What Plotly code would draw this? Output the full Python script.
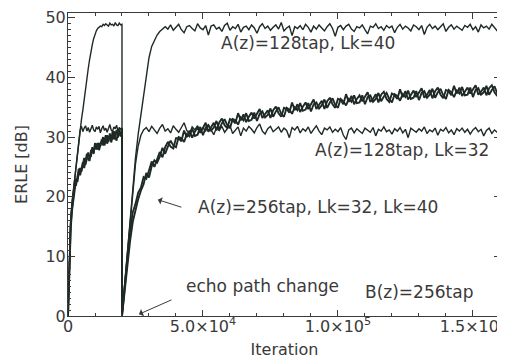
import plotly.graph_objects as go

# ---------------- data ----------------
# iteration grids: before the echo path change (step 500) and after (step 1000)
iter_before = list(range(0, 20001, 500))
iter_after = list(range(20000, 160001, 1000))

# A(z)=128tap, Lk=40
erle_128_lk40_before = [0, 11, 16, 19, 21, 23, 25.5, 28, 30, 31.5, 33, 34.5, 36.5, 38.5, 40, 41.5,
                        43, 44.5, 45.5, 46.5, 47.3, 47.8, 48.2, 48.4, 48.6, 48.5, 48.9, 48.7, 49.0,
                        48.8, 48.6, 49.1, 48.8, 48.9, 48.6, 49.2, 48.8, 48.7, 49.1, 48.8, 48.9]
erle_128_lk40_after = [0, 5.5, 10.5, 15, 21, 26.5, 30.5, 33.8, 37, 40.5, 43.3, 45.2, 46.3, 47.1, 47.7, 48.1,
                       48.5, 48.1, 48.8, 47.9, 48.4, 48.9, 48.0, 47.5, 48.5, 48.7,
                       48.2, 47.8, 49.0, 48.3, 48.0, 48.7, 47.1, 48.6, 48.8, 48.1,
                       48.4, 47.7, 48.7, 49.1, 47.9, 48.5, 48.2, 48.9, 47.6, 48.4,
                       48.6, 48.0, 48.8, 48.3, 47.4, 48.5, 49.0, 48.2, 48.6, 47.9,
                       48.4, 48.8, 48.1, 49.2, 47.8, 48.3, 48.6, 47.0, 48.5, 48.2,
                       48.7, 48.0, 48.9, 48.4, 47.6, 48.6, 48.1, 48.8, 48.3, 47.8,
                       48.5, 49.0, 48.2, 46.9, 48.4, 48.7, 48.0, 48.6, 48.9, 48.1,
                       47.7, 48.5, 48.3, 48.8, 48.0, 47.3, 48.6, 48.4, 49.0, 48.2,
                       48.5, 47.9, 48.7, 48.3, 48.6, 47.5, 48.4, 48.9, 48.1, 48.6,
                       48.3, 47.8, 48.8, 48.5, 48.0, 48.7, 47.2, 48.4, 48.9, 48.2,
                       48.6, 48.0, 48.5, 49.0, 47.7, 48.4, 48.8, 48.1, 48.6, 48.3,
                       47.9, 48.7, 48.4, 48.9, 48.0, 48.5, 47.6, 48.8, 48.3, 48.6,
                       48.1, 48.9, 48.4, 47.8, 48.6]

# A(z)=128tap, Lk=32
erle_128_lk32_before = [0, 11, 16, 19, 21, 23, 25.5, 28, 30, 31.2, 31.8, 30.9, 31.5, 31.9, 31.0, 31.6,
                        30.8, 31.4, 32.0, 31.2, 30.9, 31.7, 31.3, 31.8, 30.7, 31.4, 31.9, 31.1, 31.5,
                        30.8, 31.6, 32.1, 31.2, 30.9, 31.7, 31.4, 32.0, 31.0, 31.6, 31.3, 31.5]
erle_128_lk32_after = [0, 5.5, 10.5, 15, 20.5, 25.5, 28.5, 30.3, 31.2,
                       31.6, 30.9, 31.8, 31.2, 30.6, 31.5, 32.1, 31.0, 31.4, 30.7,
                       31.9, 31.3, 30.8, 31.6, 32.4, 31.1, 30.5, 31.7, 31.2, 31.9,
                       30.9, 31.5, 31.0, 32.0, 31.3, 30.4, 31.6, 31.1, 31.8, 30.8,
                       31.4, 31.9, 30.6, 31.2, 31.7, 30.2, 31.5, 31.0, 31.8, 31.3,
                       30.7, 31.6, 32.2, 31.0, 30.5, 31.4, 31.8, 30.9, 31.3, 31.7,
                       30.8, 31.5, 31.1, 29.9, 31.6, 31.2, 31.8, 30.7, 31.4, 31.0,
                       31.7, 30.6, 31.3, 31.9, 31.0, 30.4, 31.5, 31.2, 31.7, 30.8,
                       31.3, 30.9, 31.6, 30.3, 29.6, 31.2, 31.5, 30.7, 31.4, 31.0,
                       30.6, 31.5, 31.1, 30.8, 31.6, 30.2, 31.3, 31.0, 31.7, 30.9,
                       31.2, 30.5, 31.4, 31.0, 31.6, 30.7, 31.3, 29.9, 31.5, 31.1,
                       30.8, 31.4, 31.0, 31.7, 30.6, 31.2, 30.9, 31.5, 30.3, 31.3,
                       31.0, 31.6, 30.7, 31.2, 30.4, 31.4, 31.0, 31.5, 30.8, 31.3,
                       30.5, 31.2, 31.6, 30.9, 31.3, 30.2, 31.1, 31.5, 30.6, 31.2,
                       30.8, 31.0]

# A(z)=256tap, Lk=40
erle_256_lk40_before = [0, 10.3, 15.4, 18.2, 20.8, 22.1, 22.0, 23.4, 24.7, 23.6, 24.6, 25.8, 24.8, 26.4,
                        27.2, 26.3, 26.0, 27.7, 27.6, 27.2, 29.0, 27.9, 29.0, 27.8, 28.8, 29.6, 28.6,
                        29.5, 30.3, 28.9, 29.5, 30.3, 29.1, 30.4, 31.0, 29.9, 29.4, 30.9, 30.7, 30.1, 31.4]
erle_256_lk40_after = [0, 5.2, 10.1, 14.3, 17.4, 18.8, 20.7, 21.5, 23.3, 23.0,
                       24.4, 25.9, 25.0, 26.2, 27.5, 26.6, 28.3, 29.2, 28.4, 28.1,
                       29.8, 29.8, 29.3, 31.1, 30.0, 31.1, 29.9, 30.9, 31.6, 30.7,
                       31.5, 32.4, 30.9, 31.6, 32.4, 31.1, 32.4, 33.1, 32.0, 31.5,
                       33.0, 32.8, 32.3, 34.0, 32.8, 33.8, 32.5, 33.4, 34.1, 33.1,
                       33.9, 34.7, 33.2, 33.8, 34.5, 33.2, 34.5, 35.1, 34.0, 33.4,
                       34.9, 34.7, 34.1, 35.8, 34.5, 35.5, 34.2, 35.1, 35.8, 34.7,
                       35.5, 36.3, 34.7, 35.3, 36.1, 34.7, 36.0, 36.6, 35.5, 34.9,
                       36.4, 36.2, 35.5, 37.2, 35.9, 36.9, 35.5, 36.4, 37.0, 36.0,
                       36.7, 37.5, 35.9, 36.4, 37.2, 35.8, 37.1, 37.6, 36.4, 35.9,
                       37.3, 37.0, 36.4, 38.0, 36.7, 37.7, 36.3, 37.1, 37.8, 36.7,
                       37.4, 38.2, 36.6, 37.1, 37.9, 36.5, 37.7, 38.3, 37.1, 36.5,
                       37.9, 37.7, 37.0, 38.6, 37.3, 38.3, 36.9, 37.7, 38.3, 37.3,
                       37.9, 38.7, 37.1, 37.6, 38.3, 37.0, 38.2, 38.7, 37.5, 36.9,
                       38.3]

# A(z)=256tap, Lk=32
erle_256_lk32_before = [0, 9.6, 14.6, 17.7, 20.1, 21.2, 23.0, 22.5, 24.0, 24.8, 24.2, 25.1, 26.5, 25.4,
                        26.5, 27.4, 26.6, 26.8, 28.3, 27.4, 28.6, 28.9, 27.9, 29.0, 28.5, 29.4, 30.0,
                        28.6, 29.7, 30.3, 29.2, 30.6, 29.4, 30.9, 29.6, 30.7, 31.2, 29.9, 31.3, 30.2, 30.9]
erle_256_lk32_after = [0, 4.2, 8.6, 12.6, 15.8, 18.0, 19.6, 21.0, 22.1, 24.0,
                       23.2, 25.1, 26.1, 25.7, 26.7, 28.2, 27.2, 28.4, 29.4, 28.6,
                       28.3, 30.0, 29.8, 29.2, 30.5, 30.1, 31.4, 30.2, 30.4, 31.7,
                       30.3, 31.6, 32.0, 31.1, 31.6, 32.7, 31.3, 32.3, 33.0, 32.0,
                       31.5, 33.0, 32.8, 32.1, 33.3, 32.8, 34.0, 32.7, 32.9, 34.1,
                       32.7, 33.9, 34.3, 33.3, 33.7, 34.8, 33.4, 34.3, 35.0, 33.9,
                       33.4, 34.9, 34.6, 33.9, 35.0, 34.5, 35.7, 34.4, 34.6, 35.7,
                       34.3, 35.5, 35.8, 34.8, 35.3, 36.3, 34.9, 35.8, 36.5, 35.4,
                       34.9, 36.4, 36.0, 35.3, 36.4, 35.9, 37.0, 35.7, 35.8, 37.0,
                       35.5, 36.7, 37.0, 35.9, 36.4, 37.4, 36.0, 36.8, 37.4, 36.4,
                       35.8, 37.2, 36.9, 36.1, 37.2, 36.7, 37.8, 36.4, 36.6, 37.7,
                       36.2, 37.4, 37.7, 36.6, 37.1, 38.1, 36.6, 37.5, 38.1, 37.0,
                       36.4, 37.9, 37.5, 36.7, 37.8, 37.3, 38.4, 37.0, 37.1, 38.3,
                       36.7, 37.9, 38.2, 37.1, 37.5, 38.6, 37.1, 37.9, 38.5, 37.4,
                       36.8]

# axis tick labels
x_tick_vals = [0, 50000, 100000, 150000]
x_tick_text = ["0", "5.0×10<sup>4</sup>", "1.0×10<sup>5</sup>", "1.5×10<sup>5</sup>"]
y_tick_vals = [0, 10, 20, 30, 40, 50]

# ---------------- figure ----------------
LINE = "#1f2a25"
TXT = "#3a3a3a"
FONT = "DejaVu Sans"

iters = iter_before + iter_after
series = [
    (erle_256_lk32_before + erle_256_lk32_after, 1.9),
    (erle_256_lk40_before + erle_256_lk40_after, 1.9),
    (erle_128_lk32_before + erle_128_lk32_after, 1.4),
    (erle_128_lk40_before + erle_128_lk40_after, 1.4),
]

fig = go.Figure()
for ys, w in series:
    fig.add_trace(go.Scatter(x=iters, y=ys, mode="lines",
                             line=dict(color=LINE, width=w), showlegend=False,
                             hoverinfo="skip"))

axis_common = dict(showline=True, linecolor="#3a3a3a", linewidth=1, mirror="allticks",
                   ticks="inside", tickcolor="#3a3a3a", showgrid=False, zeroline=False,
                   automargin=False, ticklabeloverflow="allow",
                   tickfont=dict(family=FONT, size=16, color=TXT))

fig.update_xaxes(range=[0, 160400], tickvals=x_tick_vals, ticktext=x_tick_text, ticklen=6,
                 ticklabelstandoff=-4,
                 minor=dict(dtick=10000, ticks="inside", ticklen=3, tickcolor="#3a3a3a"),
                 title=dict(text="Iteration", font=dict(family=FONT, size=16, color=TXT), standoff=8),
                 **axis_common)
fig.update_yaxes(range=[0, 50.8], tickvals=y_tick_vals, ticklen=7,
                 ticklabelstandoff=-2,
                 minor=dict(dtick=1, ticks="inside", ticklen=3, tickcolor="#3a3a3a"),
                 title=dict(text="ERLE [dB]", font=dict(family=FONT, size=16, color=TXT), standoff=13),
                 **axis_common)

ann_font = dict(family=FONT, size=17, color=TXT)
labels = [
    ("A(z)=128tap, Lk=40", 88900, 45.8),
    ("A(z)=128tap, Lk=32", 123700, 27.85),
    ("A(z)=256tap, Lk=32, Lk=40", 92600, 18.3),
    ("echo path change", 72200, 5.0),
    ("B(z)=256tap", 130000, 4.0),
]
for t, x, y in labels:
    fig.add_annotation(x=x, y=y, text=t, showarrow=False, font=ann_font,
                       xanchor="center", yanchor="middle")

# arrows
fig.add_annotation(x=33300, y=19.5, text="", showarrow=True, ax=25, ay=8,
                   arrowhead=1, arrowsize=1.3, arrowwidth=1, arrowcolor=TXT)
fig.add_annotation(x=26300, y=0.3, text="", showarrow=True, ax=34, ay=-15,
                   arrowhead=1, arrowsize=1.3, arrowwidth=1, arrowcolor=TXT)

# the page body adds an 8px offset, so the figure is 8px smaller on each axis
fig.update_layout(width=497, height=353, margin=dict(l=60, r=4, t=5, b=45),
                  paper_bgcolor="white", plot_bgcolor="white",
                  font=dict(family=FONT, color=TXT))

fig.write_html("out.html")
